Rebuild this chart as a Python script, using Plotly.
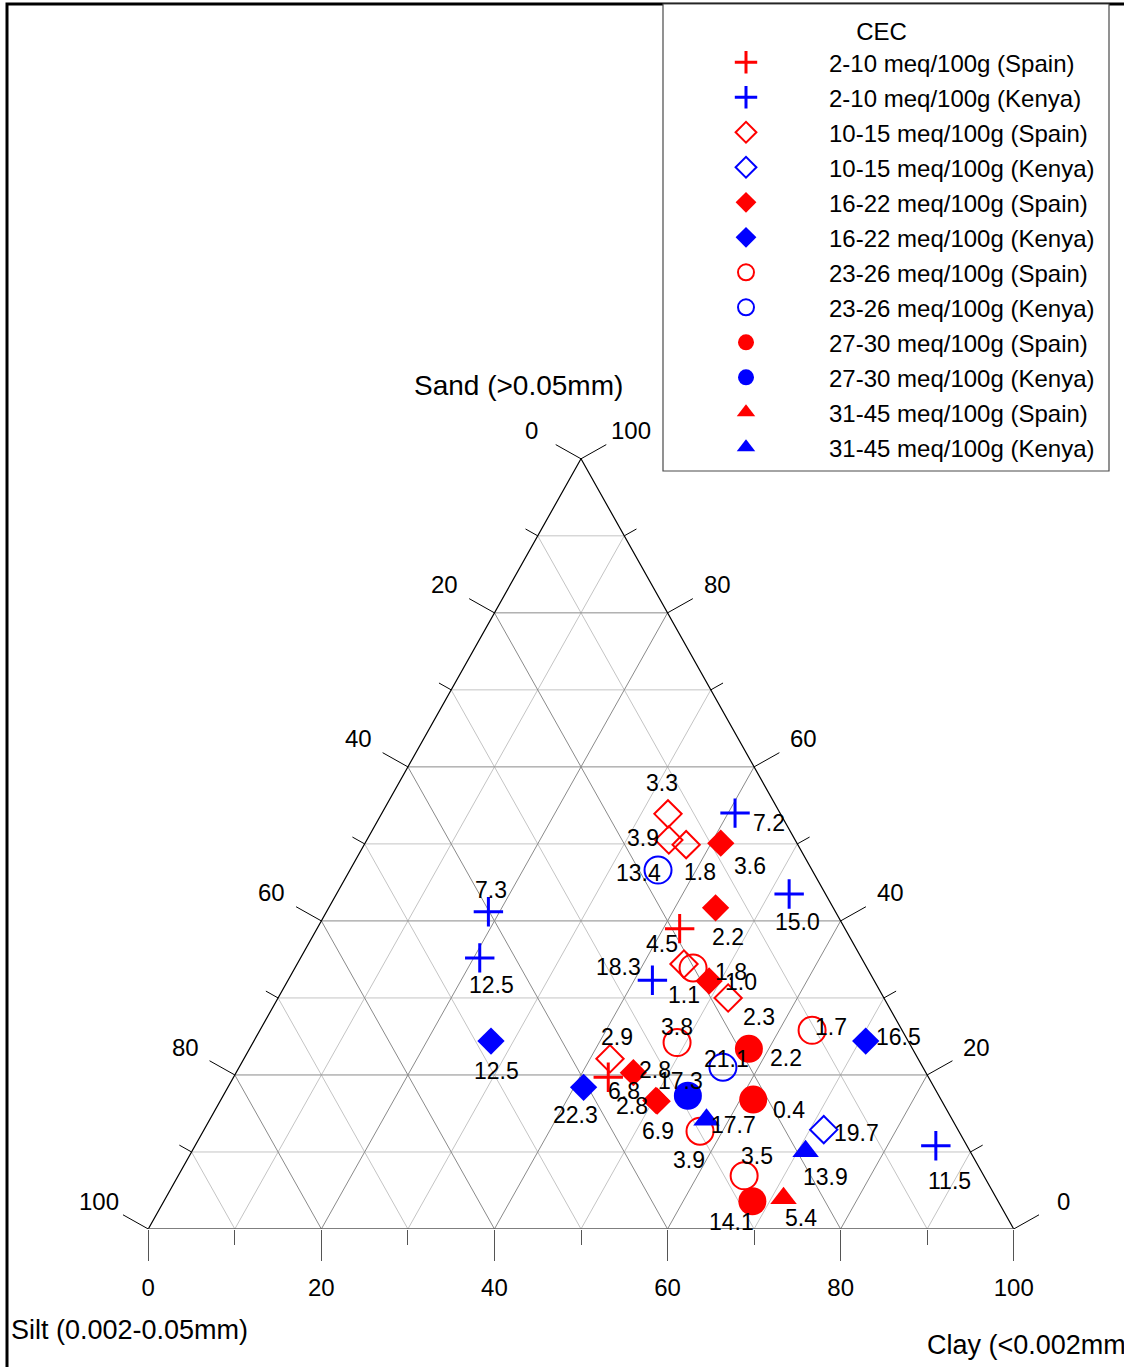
import math
import plotly.graph_objects as go

# ---------------------------------------------------------------------------
# Soil samples: texture fractions (%), CEC class, origin and printed value
# ---------------------------------------------------------------------------
sand = [41.2, 35.2, 24.4, 18.4, 32.3, 46.6, 54.0, 43.5, 24.4, 21.0, 17.3, 14.2, 12.9, 10.1, 10.8,
        53.9, 50.5, 49.9, 50.1, 41.7, 39.0, 34.4, 33.9, 32.2, 30.0, 23.4, 25.8, 16.8, 24.2, 22.1,
        19.7, 20.3, 16.6, 16.7, 12.7, 6.9, 3.6, 4.0]
silt = [40.1, 44.1, 48.2, 40.5, 25.6, 17.8, 5.2, 4.2, 4.9, 23.1, 29.0, 28.4, 15.5, 19.0, 3.6,
        13.0, 14.6, 12.9, 8.8, 13.6, 19.1, 20.9, 20.1, 19.1, 18.0, 18.9, 10.4, 21.7, 26.8, 35.6,
        37.0, 33.8, 32.9, 33.0, 29.9, 27.7, 28.4, 24.6]
clay = [18.7, 20.7, 27.4, 41.1, 42.1, 35.6, 40.8, 52.3, 70.7, 55.9, 53.7, 57.4, 71.6, 70.9, 85.6,
        33.1, 34.9, 37.2, 41.1, 44.7, 41.9, 44.7, 46.0, 48.7, 52.0, 57.7, 63.8, 61.5, 49.0, 42.3,
        43.3, 45.9, 50.5, 50.3, 57.4, 65.4, 68.0, 71.4]
cec_class = ["2-10", "2-10", "16-22", "16-22", "2-10", "23-26", "2-10", "2-10", "16-22", "23-26",
             "27-30", "31-45", "10-15", "31-45", "2-10",
             "10-15", "10-15", "10-15", "16-22", "16-22", "2-10", "10-15", "23-26", "16-22",
             "10-15", "27-30", "23-26", "27-30", "23-26", "10-15", "2-10", "16-22", "16-22",
             "16-22", "23-26", "23-26", "27-30", "31-45"]
origin = ["Kenya"] * 15 + ["Spain"] * 23
value_label = ["7.3", "12.5", "12.5", "22.3", "18.3", "13.4", "7.2", "15.0", "16.5", "21.1",
               "17.3", "17.7", "19.7", "13.9", "11.5",
               "3.3", "3.9", "1.8", "3.6", "2.2", "4.5", "1.1", "1.8", "1.0", "2.3", "2.2", "1.7",
               "0.4", "3.8", "2.9", "6.8", "2.8", "6.9", "2.8", "3.9", "3.5", "14.1", "5.4"]

cec_classes = ["2-10", "10-15", "16-22", "23-26", "27-30", "31-45"]
origins = ["Spain", "Kenya"]
tick_values = [0, 20, 40, 60, 80, 100]

# ---------------------------------------------------------------------------
# Styling
# ---------------------------------------------------------------------------
# pixel offset (right, down) of each printed value from its marker
label_offset = [(3, -22), (12, 27), (6, 30), (-8, 28), (-34, -13), (-20, 3), (34, 10), (8, 28),
                (33, -4), (4, -8), (-7, -15), (27, 5), (33, 3), (20, 26), (14, 35),
                (-6, -31), (-26, -2), (14, 27), (29, 23), (12, 29), (-18, 15), (0, 31), (38, 4),
                (32, 1), (31, 19), (37, 9), (19, -3), (36, 10), (0, -16), (7, -22), (16, 14),
                (22, -3), (1, 30), (-24, 6), (-11, 29), (13, -20), (-21, 21), (17, 20)]

origin_color = {"Spain": "#ff0000", "Kenya": "#0000ff"}
# symbol, size, outline width
class_symbol = {
    "2-10": ("cross-thin", 21, 3),
    "10-15": ("diamond-open", 21, 2),
    "16-22": ("diamond", 21, 0),
    "23-26": ("circle-open", 27, 2),
    "27-30": ("circle", 28, 0),
    "31-45": ("triangle-up", 23, 0),
}

FONT = "Liberation Sans, Arial, sans-serif"

FIG_W, FIG_H = 1124, 1367
M_L, M_R, M_T, M_B = 105, 67, 428, 138
X_RANGE = [-5, 105]
Y_RANGE = [0, 104]
PLOT_W = FIG_W - M_L - M_R
PLOT_H = FIG_H - M_T - M_B
PX_X = PLOT_W / (X_RANGE[1] - X_RANGE[0])
PX_Y = PLOT_H / (Y_RANGE[1] - Y_RANGE[0])


def project(s, si, c):
    """Ternary composition -> cartesian (x along the clay base, y = sand)."""
    total = s + si + c
    s, c = s / total * 100, c / total * 100
    return c + s / 2, s


def paper_x(px):
    return (px - M_L) / PLOT_W


def paper_y(py):
    return (FIG_H - M_B - py) / PLOT_H


fig = go.Figure()

# ---- grid lines every 10 % (darker at multiples of 20) ---------------------
grid = {True: ([], []), False: ([], [])}
for v in range(10, 100, 10):
    major = v % 20 == 0
    gx, gy = grid[major]
    segs = [
        (project(v, 100 - v, 0), project(v, 0, 100 - v)),      # constant sand
        (project(100 - v, v, 0), project(0, v, 100 - v)),      # constant silt
        (project(100 - v, 0, v), project(0, 100 - v, v)),      # constant clay
    ]
    for p, q in segs:
        gx += [p[0], q[0], None]
        gy += [p[1], q[1], None]
for major, color in ((False, "#c4c4c4"), (True, "#8a8a8a")):
    fig.add_trace(go.Scatter(x=grid[major][0], y=grid[major][1], mode="lines",
                             line=dict(color=color, width=1), hoverinfo="skip",
                             showlegend=False))

# ---- triangle outline ---------------------------------------------------------
top = project(100, 0, 0)
left = project(0, 100, 0)
right = project(0, 0, 100)
fig.add_trace(go.Scatter(x=[left[0], top[0], right[0]], y=[left[1], top[1], right[1]],
                         mode="lines", line=dict(color="#000000", width=1.2),
                         hoverinfo="skip", showlegend=False))
fig.add_trace(go.Scatter(x=[left[0], right[0]], y=[left[1], right[1]], mode="lines",
                         line=dict(color="#555555", width=1.5), hoverinfo="skip",
                         showlegend=False))

# ---- tick marks on the two slanted sides (perpendicular, outward) -------------
side_len = math.hypot(50 * PX_X, 100 * PX_Y)
nx, ny = 100 * PX_Y / side_len, 50 * PX_X / side_len   # outward normal (screen px)
tx, ty = [], []
for v in range(0, 101, 10):
    length = 29 if v % 20 == 0 else 14
    # left side: silt = v
    p = project(100 - v, v, 0)
    tx += [p[0], p[0] - nx * length / PX_X, None]
    ty += [p[1], p[1] + ny * length / PX_Y, None]
    # right side: sand = v
    p = project(v, 0, 100 - v)
    tx += [p[0], p[0] + nx * length / PX_X, None]
    ty += [p[1], p[1] + ny * length / PX_Y, None]
fig.add_trace(go.Scatter(x=tx, y=ty, mode="lines", line=dict(color="#000000", width=1),
                         hoverinfo="skip", showlegend=False))

annotations = []
lab_d = 57
for v in tick_values:
    p = project(100 - v, v, 0)
    annotations.append(dict(x=p[0], y=p[1], xref="x", yref="y", text=str(v), showarrow=False,
                            xshift=-nx * lab_d, yshift=ny * lab_d,
                            font=dict(size=24, color="#000000", family=FONT)))
    p = project(v, 0, 100 - v)
    annotations.append(dict(x=p[0], y=p[1], xref="x", yref="y", text=str(v), showarrow=False,
                            xshift=nx * lab_d, yshift=ny * lab_d,
                            font=dict(size=24, color="#000000", family=FONT)))

# ---- samples, one trace per CEC class and origin --------------------------------
for cls in cec_classes:
    for org in origins:
        idx = [i for i in range(len(sand)) if cec_class[i] == cls and origin[i] == org]
        pts = [project(sand[i], silt[i], clay[i]) for i in idx]
        sym, size, lw = class_symbol[cls]
        col = origin_color[org]
        fig.add_trace(go.Scatter(
            x=[p[0] for p in pts], y=[p[1] for p in pts], mode="markers",
            name=f"{cls} meq/100g ({org})", legendgroup=f"{cls}-{org}",
            marker=dict(symbol=sym, size=size, color=col,
                        line=dict(color=col, width=lw)),
            cliponaxis=False,
        ))

for i in range(len(sand)):
    x, y = project(sand[i], silt[i], clay[i])
    dx, dy = label_offset[i]
    annotations.append(dict(x=x, y=y, xref="x", yref="y", text=value_label[i],
                            showarrow=False, xshift=dx, yshift=-dy,
                            font=dict(size=23, color="#000000", family=FONT)))

# ---- axis titles ---------------------------------------------------------------
annotations += [
    dict(x=paper_x(518), y=paper_y(385), xref="paper", yref="paper", text="Sand (>0.05mm)",
         showarrow=False, xanchor="center", yanchor="middle",
         font=dict(size=28, color="#000000", family=FONT)),
    dict(x=paper_x(9), y=paper_y(1330), xref="paper", yref="paper",
         text="Silt (0.002-0.05mm)", showarrow=False, xanchor="left", yanchor="middle",
         font=dict(size=27, color="#000000", family=FONT)),
    dict(x=paper_x(925), y=paper_y(1345), xref="paper", yref="paper",
         text="Clay (<0.002mm)", showarrow=False, xanchor="left", yanchor="middle",
         font=dict(size=27, color="#000000", family=FONT)),
]

# ---- outer frame and legend box --------------------------------------------------
shapes = [
    dict(type="rect", xref="paper", yref="paper",
         x0=paper_x(7), x1=paper_x(1140), y0=paper_y(1400), y1=paper_y(4),
         line=dict(color="#000000", width=3), fillcolor="rgba(0,0,0,0)", layer="below"),
    dict(type="rect", xref="paper", yref="paper",
         x0=paper_x(663), x1=paper_x(1109), y0=paper_y(471), y1=paper_y(4),
         line=dict(color="#4a4a4a", width=1.2), fillcolor="#ffffff", layer="below"),
]

fig.update_layout(
    width=FIG_W, height=FIG_H,
    margin=dict(l=M_L, r=M_R, t=M_T, b=M_B, autoexpand=False),
    paper_bgcolor="#ffffff", plot_bgcolor="#ffffff",
    font=dict(family=FONT, size=24, color="#000000"),
    xaxis=dict(range=X_RANGE, showgrid=False, zeroline=False, showline=False,
               tickmode="array", tickvals=tick_values, ticktext=[str(v) for v in tick_values],
               ticks="outside", ticklen=31, tickwidth=1, tickcolor="#555555",
               tickfont=dict(size=24, color="#000000", family=FONT),
               ticklabelstandoff=6,
               minor=dict(tickmode="array", tickvals=[10, 30, 50, 70, 90], ticks="outside",
                          ticklen=15, tickwidth=1, tickcolor="#555555", showgrid=False),
               fixedrange=True),
    yaxis=dict(range=Y_RANGE, visible=False, fixedrange=True),
    legend=dict(x=paper_x(663), y=paper_y(9), xanchor="left", yanchor="top",
                bgcolor="rgba(0,0,0,0)", borderwidth=0, tracegroupgap=0.8,
                itemwidth=156, font=dict(size=24, color="#000000", family=FONT),
                title=dict(text="CEC", side="top center",
                           font=dict(size=24, color="#000000", family=FONT))),
    annotations=annotations,
    shapes=shapes,
    showlegend=True,
)

fig.write_html("out.html")
